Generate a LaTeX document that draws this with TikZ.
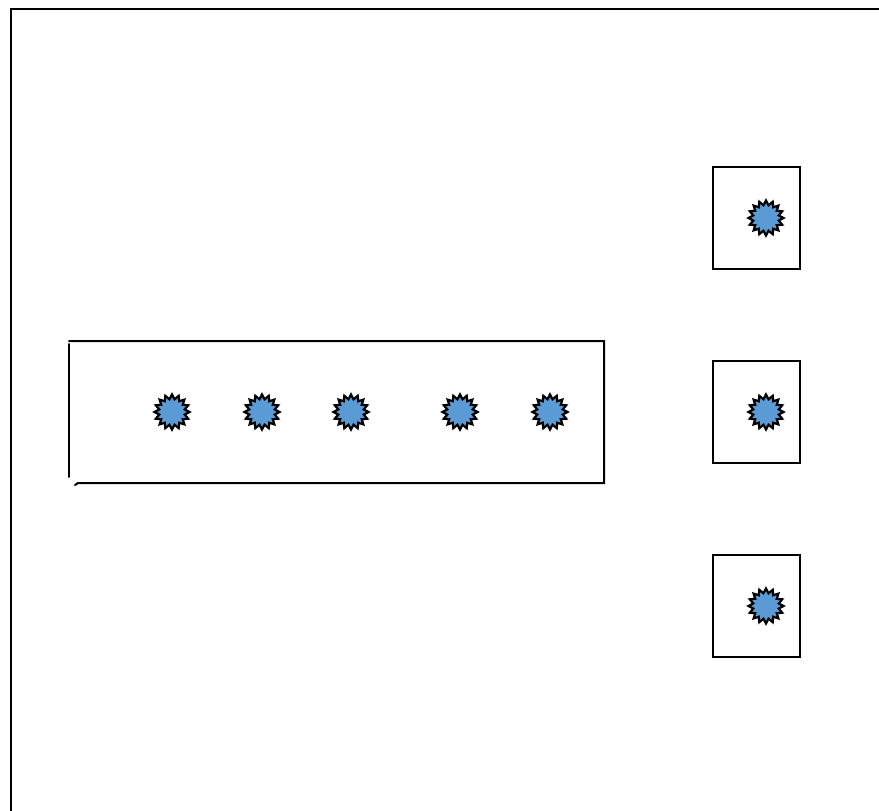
\documentclass[tikz,border=0pt]{standalone}
\usetikzlibrary{shapes.geometric}
\begin{document}
\begin{tikzpicture}[x=1pt,y=-1pt,
  edge/.style={line width=2pt,line cap=round},
  spark/.style={star,star points=16,star point ratio=1.35,minimum size=35pt,inner sep=0pt,
    fill={rgb,255:red,91;green,155;blue,213},draw=black,line width=2.2pt},
  holder/.style={draw=black,line width=2pt,minimum width=87pt,minimum height=102pt,inner sep=0pt}]
\useasboundingbox (0,0) rectangle (879,811);
% open outer frame
\coordinate (fb) at (11,812);
\coordinate (ft) at (11,9);
\coordinate (fr) at (880,9);
\draw[line width=2.5pt] (fb) -- (ft) -- (fr);
% long tray
\coordinate (tl) at (69,341);
\coordinate (tr) at (604,341);
\coordinate (br) at (604,483);
\coordinate (bl) at (78,483);
\coordinate (lt) at (69,344);
\coordinate (lb) at (69,477);
\draw[edge] (tl) -- (tr) -- (br) -- (bl) -- ++(-3,2);
\draw[edge] (lt) -- (lb);
% sparks in the tray
\foreach \n/\x in {a/172,b/262,c/351,d/460,e/550}
  \node[spark] (s\n) at (\x,412) {};
% three holders on the right
\foreach \n/\y in {1/218,2/412,3/606}{
  \node[holder] (h\n) at (756.5,\y) {};
  \node[spark] (k\n) at (766,\y) {};
}
\end{tikzpicture}
\end{document}
